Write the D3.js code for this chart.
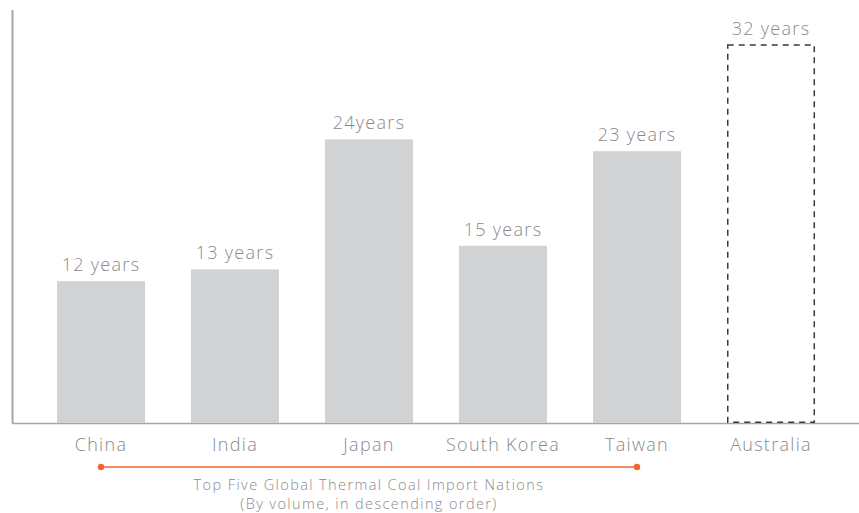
<!DOCTYPE html>
<html>
<head>
<meta charset="utf-8">
<script src="https://cdn.jsdelivr.net/npm/d3@7/dist/d3.min.js"></script>
<style>
  html, body { margin: 0; padding: 0; background: #fff; }
  svg { display: block; font-family: "Open Sans", "Noto Sans", sans-serif; }
</style>
</head>
<body>
<svg id="chart" width="859" height="513"></svg>
<script>
// Remaining reserve life of thermal coal, by country
const countries = ["China", "India", "Japan", "South Korea", "Taiwan", "Australia"];
const years = [12, 13, 24, 15, 23, 32];
const valueLabels = ["12 years", "13 years", "24years", "15 years", "23 years", "32 years"];
const importers = ["China", "India", "Japan", "South Korea", "Taiwan"];
const captionLines = ["Top Five Global Thermal Coal Import Nations", "(By volume, in descending order)"];

const svg = d3.select("#chart");
const baseY = 423;
const textGrey = "#8a8a8a";

const x = d3.scaleBand()
  .domain(countries)
  .range([11, 861])
  .paddingInner(0.343)
  .paddingOuter(0.343);

const y = d3.scaleLinear()
  .domain([0, 35.8])
  .range([baseY, 0]);

// Axis frame: left spine and baseline
svg.append("line")
  .attr("x1", 12.5).attr("x2", 12.5)
  .attr("y1", 10).attr("y2", baseY)
  .attr("stroke", "#a6a6a6").attr("stroke-width", 2);
svg.append("line")
  .attr("x1", 12).attr("x2", 859)
  .attr("y1", baseY + 0.5).attr("y2", baseY + 0.5)
  .attr("stroke", "#a6a6a6").attr("stroke-width", 1.5);

const data = countries.map((c, i) => ({ c, v: years[i], label: valueLabels[i] }));

// Importer bars (solid) and Australia (dashed outline)
svg.selectAll("rect.bar")
  .data(data)
  .join("rect")
  .attr("class", "bar")
  .attr("x", d => d.c === "Australia" ? x(d.c) + 0.75 : x(d.c))
  .attr("y", d => y(d.v))
  .attr("width", d => d.c === "Australia" ? x.bandwidth() - 1.5 : x.bandwidth())
  .attr("height", d => baseY - y(d.v) - (d.c === "Australia" ? 0.75 : 0))
  .attr("fill", d => d.c === "Australia" ? "none" : "#d1d2d4")
  .attr("stroke", d => d.c === "Australia" ? "#3a3a3a" : "none")
  .attr("stroke-width", 1.5)
  .attr("stroke-dasharray", d => d.c === "Australia" ? "6,5" : null);

// Value labels above bars
svg.selectAll("text.value")
  .data(data)
  .join("text")
  .attr("class", "value")
  .attr("x", d => x(d.c) + x.bandwidth() / 2)
  .attr("y", d => y(d.v) - 10)
  .attr("text-anchor", "middle")
  .attr("fill", textGrey)
  .attr("font-size", 18)
  .attr("font-weight", 300)
  .attr("letter-spacing", 1.3)
  .text(d => d.label);

// Category labels
svg.selectAll("text.cat")
  .data(countries)
  .join("text")
  .attr("class", "cat")
  .attr("x", d => x(d) + x.bandwidth() / 2)
  .attr("y", 451)
  .attr("text-anchor", "middle")
  .attr("fill", textGrey)
  .attr("font-size", 18)
  .attr("font-weight", 300)
  .attr("letter-spacing", 1.3)
  .text(d => d);

// Bracket marking the five import nations
const bx1 = x(importers[0]) + x.bandwidth() / 2;
const bx2 = x(importers[importers.length - 1]) + x.bandwidth() / 2;
const orange = "#f26530";
svg.append("line")
  .attr("x1", bx1).attr("x2", bx2)
  .attr("y1", 467).attr("y2", 467)
  .attr("stroke", orange).attr("stroke-width", 1.5);
svg.selectAll("circle.end")
  .data([bx1, bx2])
  .join("circle")
  .attr("class", "end")
  .attr("cx", d => d).attr("cy", 467).attr("r", 3.2)
  .attr("fill", orange);

svg.selectAll("text.caption")
  .data(captionLines)
  .join("text")
  .attr("class", "caption")
  .attr("x", (bx1 + bx2) / 2)
  .attr("y", (d, i) => 490 + i * 19)
  .attr("text-anchor", "middle")
  .attr("fill", textGrey)
  .attr("font-size", 14.5)
  .attr("font-weight", 300)
  .attr("letter-spacing", 1.4)
  .text(d => d);
</script>
</body>
</html>
